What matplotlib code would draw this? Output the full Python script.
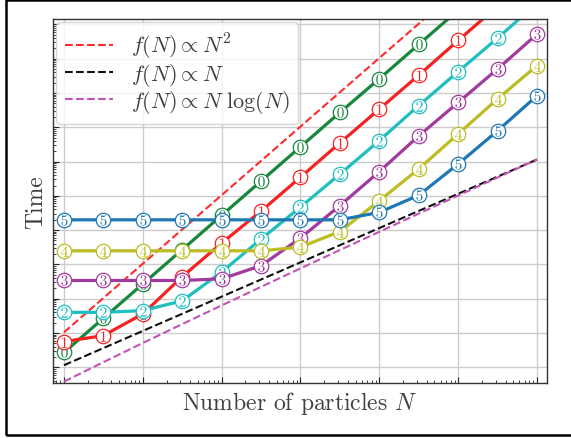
import matplotlib
matplotlib.use("Agg")
import matplotlib.pyplot as plt
from matplotlib.patches import Rectangle
from matplotlib.ticker import LogLocator

plt.rcParams['font.family'] = ['cmr10', 'DejaVu Serif']
plt.rcParams['mathtext.fontset'] = 'cm'
plt.rcParams['axes.formatter.use_mathtext'] = True

# ---- data ----
n_particles = [1e3, 3.16e3, 1e4, 3.16e4, 1e5, 3.16e5, 1e6, 3.16e6, 1e7, 3.16e7, 1e8, 3.16e8, 1e9]

time_0 = [2.7e-4, 2.7e-3, 2.7e-2, 2.7e-1, 2.7, 2.7e1, 2.7e2, 2.7e3, 2.6e4, 2.6e5, 2.6e6]
time_1 = [5.6e-4, 8.4e-4, 3.6e-3, 4.4e-2, 0.42, 3.6, 35, 3.5e2, 3.4e3, 3.3e4, 3.4e5, 3.4e6]
time_2 = [4.0e-3, 4.0e-3, 4.5e-3, 8.7e-3, 6.0e-2, 0.55, 4.7, 43, 4.1e2, 4.3e3, 4.2e4, 4.0e5, 4.1e6]
time_3 = [3.4e-2, 3.4e-2, 3.4e-2, 3.4e-2, 3.8e-2, 9.2e-2, 0.59, 5.2, 51, 5.6e2, 5.3e3, 5.0e4, 5.2e5]
time_4 = [0.25, 0.25, 0.25, 0.25, 0.25, 0.25, 0.32, 0.91, 7.2, 61, 6.4e2, 6.7e3, 6.3e4]
time_5 = [2.0, 2.0, 2.0, 2.0, 2.0, 2.0, 2.0, 2.0, 3.3, 10.4, 85, 7.9e2, 8.3e3]
series = [time_0, time_1, time_2, time_3, time_4, time_5]
series_labels = ['0', '1', '2', '3', '4', '5']

ref_n2_x = [1e3, 1e9]
ref_n2_y = [1.05e-3, 1.05e9]
ref_n_x = [1e3, 1e9]
ref_n_y = [1.15e-4, 1.15e2]
ref_nlogn_y = [3.83e-5, 1.41e-4, 5.11e-4, 1.82e-3, 6.39e-3, 2.22e-2, 7.67e-2,
               0.263, 0.894, 3.03, 10.2, 34.3, 115]

legend_labels = [r'$f(N) \propto N^2$', r'$f(N) \propto N$', r'$f(N) \propto N\ \log(N)$']

colors = ['#17873c', '#f52222', '#1fbfbf', '#a23a9e', '#bcbd22', '#1f77b4']
ref_colors = ['#ff2a2a', '#111111', '#c255b4']

# ---- figure ----
fig = plt.figure(figsize=(5.71, 4.39), dpi=100)
ax = fig.add_axes([53/571, 1-384/439, (547-53)/571, (384-20)/439])
ax.set_xscale('log')
ax.set_yscale('log')

ax.plot(ref_n2_x, ref_n2_y, ls='--', color=ref_colors[0], lw=1.5, label=legend_labels[0], zorder=1.9)
ax.plot(ref_n_x, ref_n_y, ls='--', color=ref_colors[1], lw=1.5, label=legend_labels[1], zorder=1.9)
ax.plot(n_particles, ref_nlogn_y, ls='--', color=ref_colors[2], lw=1.5, label=legend_labels[2], zorder=1.9)

for i, (ys, lab) in enumerate(zip(series, series_labels)):
    xs = n_particles[:len(ys)]
    z = 2 + i * 0.1
    ax.plot(xs, ys, '-', color=colors[i], lw=2.3, marker='o', ms=10.4,
            mfc='white', mec=colors[i], mew=0.9, zorder=z)
    ax.plot(xs, ys, ls='none', marker=r'$\mathbf{%s}$' % lab, ms=7.6,
            color=colors[i], mew=0, zorder=z + 0.05)

ax.set_xlim(725, 1.34e9)
ax.set_ylim(3.48e-5, 1.44e6)

for axis in (ax.xaxis, ax.yaxis):
    axis.set_major_locator(LogLocator(base=10, numticks=30))
    axis.set_minor_locator(LogLocator(base=10, subs=range(2, 10), numticks=30))

ax.grid(True, which='major', color='0.8', lw=1.0)
ax.set_axisbelow(True)
ax.tick_params(which='both', direction='in', labelbottom=False, labelleft=False,
               top=False, right=False, color='0.15')
ax.tick_params(which='major', length=4, width=0.8)
ax.tick_params(which='minor', length=2.5, width=0.6)
for s in ax.spines.values():
    s.set_color('0.2')
    s.set_linewidth(1.0)

ax.set_xlabel('Number of particles $N$', fontsize=17, color='0.25')
ax.set_ylabel('Time', fontsize=17, color='0.25')

leg = ax.legend(loc='upper left', fontsize=16, handlelength=2.15, handletextpad=0.8,
                labelspacing=0.0, borderaxespad=0.15, borderpad=0.4,
                framealpha=0.8, edgecolor='0.8')
for t in leg.get_texts():
    t.set_color('0.25')

fig.patches.append(Rectangle((6/571, 3.5/439), 570/571, 435/439, transform=fig.transFigure,
                             fill=False, lw=1.8, ec='black'))

fig.savefig('out.png', dpi=100)
